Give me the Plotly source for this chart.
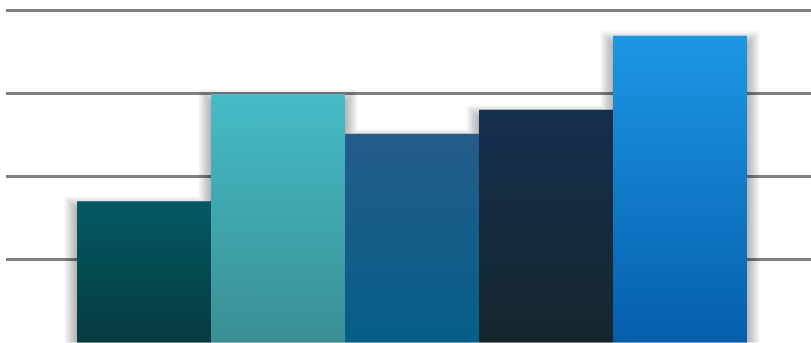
import plotly.graph_objects as go

categories = ["A", "B", "C", "D", "E"]
values = [17, 29.9, 25.1, 28, 36.9]
top_colors = ["#045a62", "#45bcc7", "#245c8a", "#142f4e", "#1d97e4"]
bottom_colors = ["#053a40", "#3a8f94", "#055f88", "#16262c", "#055eac"]
y_ticks = [0, 10, 20, 30, 40]

W, H = 811, 343
ML, MR, MT, MB = 6, 0, 8, 0
px_y = 333 / 40.0
y_range = [-0.5 / px_y, 40 + 2 / px_y]
x_range = [-1.0299, 4.9776]
px_x = (W - ML - MR) / (x_range[1] - x_range[0])

fig = go.Figure()

# soft drop shadows, built from the data values
N = 13
for k in range(1, N + 1):
    xs, ys = [], []
    dx = k / px_x
    for i, v in enumerate(values):
        top = v - (8 - k) / px_y
        x0, x1 = i - 0.5 - dx, i + 0.5 + dx
        xs += [x0, x1, x1, x0, x0, None]
        ys += [0, 0, top, top, 0, None]
    fig.add_trace(go.Scatter(x=xs, y=ys, mode="lines", fill="toself",
                             fillcolor="rgba(0,0,0,0.022)", line=dict(width=0),
                             hoverinfo="skip", showlegend=False))

# gradient bars
for i, (cat, v) in enumerate(zip(categories, values)):
    x0, x1 = i - 0.5, i + 0.5
    fig.add_trace(go.Scatter(
        x=[x0, x1, x1, x0, x0], y=[0, 0, v, v, 0],
        mode="lines", fill="toself", name=cat,
        line=dict(width=0),
        fillgradient=dict(type="vertical",
                          colorscale=[[0, bottom_colors[i]], [1, top_colors[i]]]),
        hoverinfo="skip", showlegend=False))

fig.update_layout(
    width=W, height=H,
    margin=dict(l=ML, r=MR, t=MT, b=MB),
    paper_bgcolor="white", plot_bgcolor="white",
    showlegend=False,
    xaxis=dict(range=x_range, visible=False, fixedrange=True),
    yaxis=dict(range=y_range, tickvals=y_ticks, showticklabels=False,
               showgrid=True, gridcolor="#7f7f7f", gridwidth=2.5,
               zeroline=False, showline=False, fixedrange=True),
)

fig.write_html("out.html", config={"displayModeBar": False},
               post_script="document.body.style.margin='0';document.body.style.overflow='hidden';")
